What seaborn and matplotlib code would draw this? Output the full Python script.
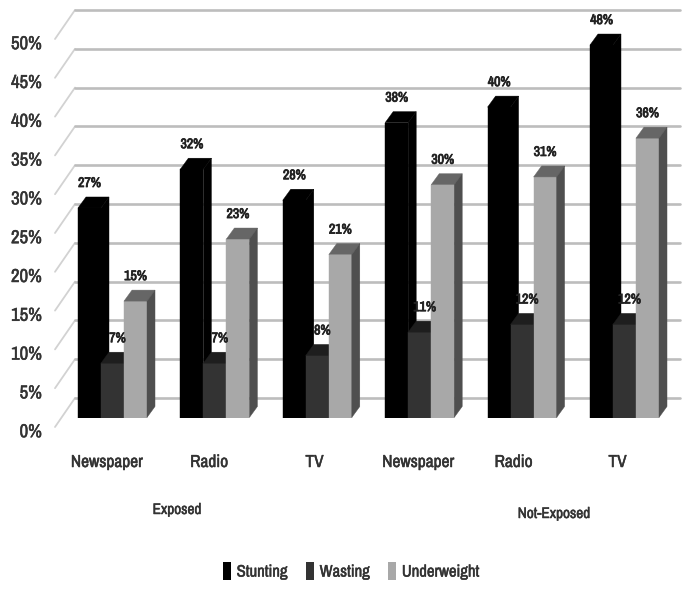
import matplotlib
matplotlib.use("Agg")
import matplotlib.pyplot as plt
import matplotlib.font_manager as fm
import matplotlib.patheffects as pe
from matplotlib.patches import Polygon
from matplotlib.transforms import ScaledTranslation
import pandas as pd
import seaborn as sns

media = ["Newspaper", "Radio", "TV", "Newspaper", "Radio", "TV"]
stunting = [27, 32, 28, 38, 40, 48]
wasting = [7, 7, 8, 11, 12, 12]
underweight = [15, 23, 21, 30, 31, 36]
series_names = ["Stunting", "Wasting", "Underweight"]
y_ticks = [0, 5, 10, 15, 20, 25, 30, 35, 40, 45, 50]
group_names = ["Exposed", "Not-Exposed"]

sns.set_style("white")
names = {f.name for f in fm.fontManager.ttflist}
narrow = "Archivo Narrow" if "Archivo Narrow" in names else "Liberation Sans"
plt.rcParams["font.family"] = [narrow, "DejaVu Sans"]

W, H = 691, 598
fig = plt.figure(figsize=(W / 100, H / 100), dpi=100)
# plot area in pixels: 0% at y=417.5, 50% at y=29.5, groups 102.4px apart
ax = fig.add_axes([61.3 / W, 1 - 417.5 / H, 614.4 / W, 388 / H])

rows = []
for i in range(len(media)):
    rows.append({"slot": i, "series": "Stunting", "value": stunting[i]})
    rows.append({"slot": i, "series": "Wasting", "value": wasting[i]})
    rows.append({"slot": i, "series": "Underweight", "value": underweight[i]})
df = pd.DataFrame(rows)

front = {"Stunting": "#000000", "Wasting": "#333333", "Underweight": "#a8a8a8"}
top = {"Stunting": "#000000", "Wasting": "#1e1e1e", "Underweight": "#666666"}
side = {"Stunting": "#000000", "Wasting": "#222222", "Underweight": "#4f4f4f"}

sns.barplot(data=df, x="slot", y="value", hue="series", hue_order=series_names,
            palette=front, width=0.674, gap=0, saturation=1, linewidth=0, ax=ax)
ax.set_xlim(-0.5, 5.5)
ax.set_ylim(0, 50)

sx = 1 / 102.4
sy = 1 / 7.76
dx, dy = 8 * sx, 11 * sy
bold = [pe.withStroke(linewidth=0.6, foreground="#222222")]
soft = [pe.withStroke(linewidth=0.35, foreground="#333333")]

# bars with their fake depth
for n, cont in enumerate(ax.containers):
    name = series_names[n]
    for bar in cont:
        bar.set_zorder(3 + n)
        bar.set_edgecolor(front[name])
        bar.set_linewidth(0.3)
        x0, w, h = bar.get_x(), bar.get_width(), bar.get_height()
        ax.add_patch(Polygon([(x0, h), (x0 + dx, h + dy), (x0 + w + dx, h + dy), (x0 + w, h)],
                             facecolor=top[name], edgecolor=top[name], lw=0.3, zorder=3 + n, clip_on=False))
        ax.add_patch(Polygon([(x0 + w, 0), (x0 + w + dx, dy), (x0 + w + dx, h + dy), (x0 + w, h)],
                             facecolor=side[name], edgecolor=side[name], lw=0.3, zorder=3 + n, clip_on=False))
        shift = 5 * sx if name == "Wasting" else 0
        ax.text(x0 + w / 2 + shift, h + 25 * sy, f"{h:.0f}%", ha="center", va="center",
                fontsize=10, color="#222222", zorder=8, path_effects=bold)

# gridlines on floor and back wall
xa = -0.5 + (55 - 61.3) * sx
xb = -0.5 + (75 - 61.3) * sx
xc = -0.5 + (680 - 61.3) * sx
for v in y_ticks:
    ax.plot([xa, xb], [v - 9.5 * sy, v + 19.5 * sy], color="#d2d2d2", lw=1.3, zorder=1, clip_on=False)
    ax.plot([xb, xc], [v + 19.5 * sy, v + 19.5 * sy], color="#bdbdbd", lw=1.9, zorder=1, clip_on=False)

sns.despine(ax=ax, left=True, bottom=True)
ax.set_xlabel("")
ax.set_ylabel("")
ax.set_yticks(y_ticks)
ax.set_yticklabels([f"{v}%" for v in y_ticks], fontsize=13.5, color="#333333", path_effects=soft)
ax.set_xticks(range(len(media)))
ax.set_xticklabels(media, fontsize=12.5, color="#333333", path_effects=soft)
ax.tick_params(axis="both", length=0)
ax.tick_params(axis="y", pad=14)
ax.tick_params(axis="x", pad=27)
for lab in ax.get_yticklabels():
    lab.set_transform(lab.get_transform() + ScaledTranslation(0, -9.5 / 72, fig.dpi_scale_trans))
for lab, shift in zip(ax.get_xticklabels(), [-4, -4, -2, -1, -6, -5]):
    lab.set_transform(lab.get_transform() + ScaledTranslation(shift / 72, 0, fig.dpi_scale_trans))

fig.text(177 / W, 1 - 510 / H, group_names[0], ha="center", va="center", fontsize=11, color="#333333", path_effects=soft)
fig.text(554 / W, 1 - 514 / H, group_names[1], ha="center", va="center", fontsize=11, color="#333333", path_effects=soft)

sns.move_legend(ax, "center", bbox_to_anchor=(351 / W, 1 - 571 / H), bbox_transform=fig.transFigure,
                ncol=3, title=None, frameon=False, fontsize=12, handlelength=0.48, handleheight=1.3,
                handletextpad=0.35, columnspacing=1.1, labelcolor="#333333")
for t in ax.get_legend().get_texts():
    t.set_path_effects(soft)

fig.savefig("out.png", dpi=100)
